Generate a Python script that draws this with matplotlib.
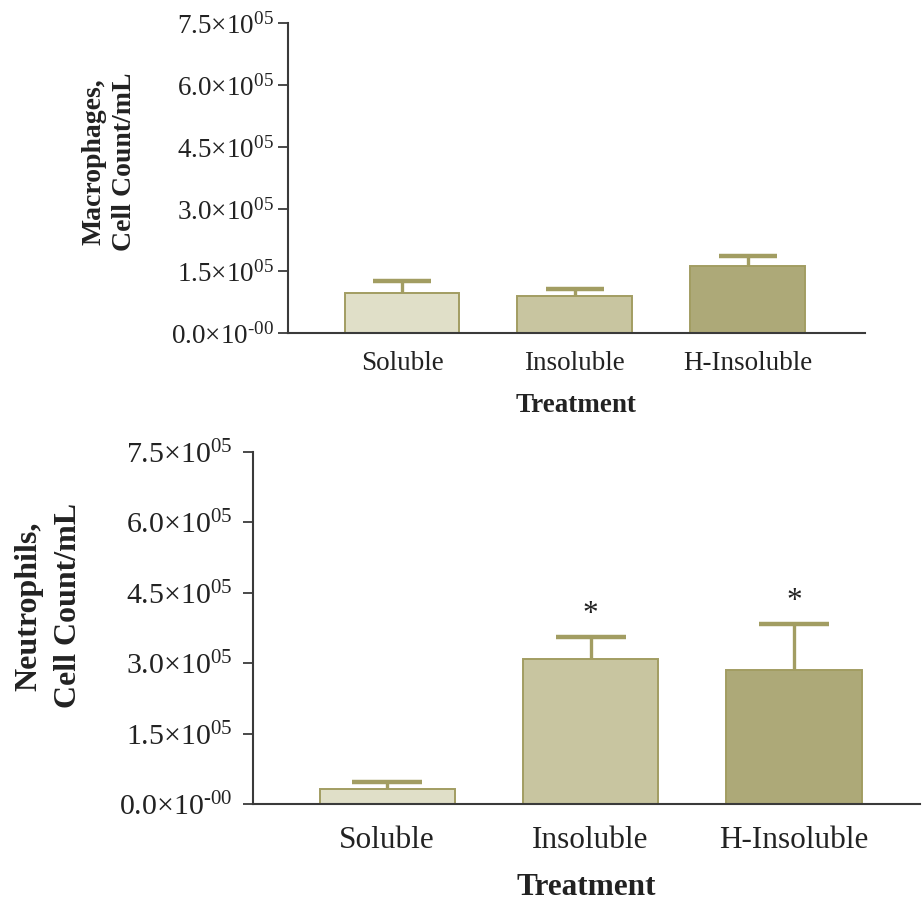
import numpy as np
import matplotlib
matplotlib.use("Agg")
import matplotlib.pyplot as plt

# ==================== Data ====================

TREATMENTS = ["Soluble", "Insoluble", "H-Insoluble"]

MACRO_MEAN = [0.97e5, 0.90e5, 1.62e5]
MACRO_ERR  = [0.29e5, 0.17e5, 0.24e5]

NEUTRO_MEAN = [0.32e5, 3.09e5, 2.86e5]
NEUTRO_ERR  = [0.15e5, 0.47e5, 0.98e5]
NEUTRO_SIG  = [False, True, True]

Y_TICKS  = [0, 1.5e5, 3.0e5, 4.5e5, 6.0e5, 7.5e5]
Y_LABELS = [r"$\mathregular{0.0{\times}10^{\text{-00}}}$",
            r"$\mathregular{1.5{\times}10^{05}}$",
            r"$\mathregular{3.0{\times}10^{05}}$",
            r"$\mathregular{4.5{\times}10^{05}}$",
            r"$\mathregular{6.0{\times}10^{05}}$",
            r"$\mathregular{7.5{\times}10^{05}}$"]

# ==================== Style ====================

FILLS     = ["#e0dfc8", "#c8c5a0", "#ada978"]
EDGE      = "#a29d62"
AXIS_COL  = "#3a3a3a"
TEXT_COL  = "#222222"

plt.rcParams["font.family"] = ["Liberation Serif", "DejaVu Serif"]
plt.rcParams["mathtext.fontset"] = "custom"
plt.rcParams["mathtext.rm"] = "Liberation Serif"
plt.rcParams["mathtext.it"] = "Liberation Serif:italic"
plt.rcParams["mathtext.bf"] = "Liberation Serif:bold"


def draw_panel(ax, means, errs, ylabel, fs, tick_fs, ylab_fs, capsize, ylabel_xy,
               xlim_right, ytick_pad, xtick_pad, ylab_spacing, sig=None):
    x = np.arange(len(TREATMENTS))
    ax.bar(x, means, width=0.665, color=FILLS, edgecolor=EDGE, linewidth=1.4, zorder=2)
    eb = ax.errorbar(x, means, yerr=[np.zeros(len(errs)), errs], fmt="none",
                     ecolor=EDGE, elinewidth=2.4, capsize=capsize, capthick=3.2, zorder=1)
    eb[1][0].set_visible(False)   # hide lower caps

    if sig is not None:
        for xi, m, e, s in zip(x, means, errs, sig):
            if s:
                ax.annotate("*", (xi, m + e), xytext=(0, 16), textcoords="offset points",
                            ha="center", va="center", fontsize=fs, color=TEXT_COL)

    ax.set_xlim(-0.66, xlim_right)
    ax.set_ylim(0, 7.5e5)
    ax.set_yticks(Y_TICKS)
    ax.set_yticklabels(Y_LABELS, fontsize=tick_fs, color=TEXT_COL)
    ax.set_xticks(x)
    ax.set_xticklabels(TREATMENTS, fontsize=fs, color=TEXT_COL)

    for side in ("top", "right"):
        ax.spines[side].set_visible(False)
    for side in ("left", "bottom"):
        ax.spines[side].set_color(AXIS_COL)
        ax.spines[side].set_linewidth(1.5)
    ax.tick_params(axis="y", length=7, width=1.3, color=AXIS_COL, pad=ytick_pad)
    ax.tick_params(axis="x", length=0, pad=xtick_pad)

    ax.set_xlabel("Treatment", fontsize=fs, fontweight="bold", color=TEXT_COL)
    ax.xaxis.set_label_coords(0.5, -0.195)
    ax.set_ylabel(ylabel, fontsize=ylab_fs, fontweight="bold", color=TEXT_COL,
                  linespacing=ylab_spacing)
    ax.yaxis.set_label_coords(*ylabel_xy)


fig = plt.figure(figsize=(9.22, 9.0), dpi=100)

ax_top = fig.add_axes([288 / 922, 1 - 333 / 900, 577 / 922, 310 / 900])
draw_panel(ax_top, MACRO_MEAN, MACRO_ERR, "Macrophages,\nCell Count/mL",
           fs=19.5, tick_fs=19.5, ylab_fs=20, capsize=21, ylabel_xy=(-0.262, 0.552),
           xlim_right=2.68, ytick_pad=3, xtick_pad=13, ylab_spacing=1.3)

ax_bot = fig.add_axes([253 / 922, 1 - 804 / 900, 667 / 922, 352 / 900])
draw_panel(ax_bot, NEUTRO_MEAN, NEUTRO_ERR, "Neutrophils,\nCell Count/mL",
           fs=22.5, tick_fs=21.5, ylab_fs=23, capsize=25, ylabel_xy=(-0.255, 0.563),
           xlim_right=2.62, ytick_pad=8, xtick_pad=16, ylab_spacing=1.5,
           sig=NEUTRO_SIG)

fig.savefig("out.png", dpi=100)
